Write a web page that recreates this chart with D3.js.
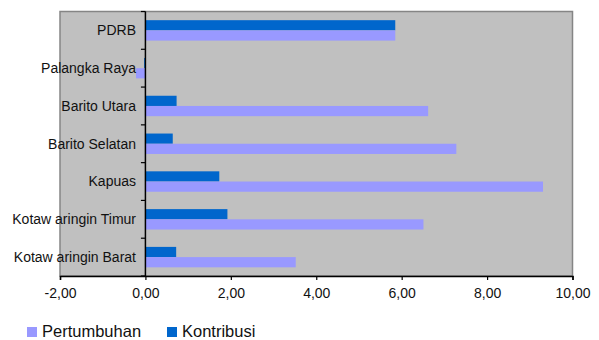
<!DOCTYPE html>
<html>
<head>
<meta charset="utf-8">
<script src="https://cdn.jsdelivr.net/npm/d3@7"></script>
<style>
  html, body { margin: 0; padding: 0; background: #fff; }
  svg { display: block; font-family: "Liberation Sans", Arial, sans-serif; }
</style>
</head>
<body>
<svg id="chart" width="599" height="340"></svg>
<script>
// Regions, listed top to bottom
const categories = [
  "PDRB",
  "Palangka Raya",
  "Barito Utara",
  "Barito Selatan",
  "Kapuas",
  "Kotaw aringin Timur",
  "Kotaw aringin Barat"
];
// Contribution and growth per region (%)
const kontribusi  = [5.85, -0.03, 0.73, 0.64, 1.73, 1.92, 0.72];
const pertumbuhan = [5.85, -0.22, 6.62, 7.28, 9.31, 6.51, 3.52];
const xTicks = [-2, 0, 2, 4, 6, 8, 10];
const seriesNames = ["Pertumbuhan", "Kontribusi"];
const colors = { Pertumbuhan: "#9999FF", Kontribusi: "#0066CC" };

const svg = d3.select("#chart");
const plot = { left: 60, right: 572.5, top: 11.5, bottom: 276 };

const x = d3.scaleLinear().domain([-2, 10]).range([plot.left, plot.right]);
const y = d3.scaleBand().domain(categories).range([plot.top, plot.bottom]).padding(0);
const sub = d3.scaleBand().domain(["Kontribusi", "Pertumbuhan"])
  .range([0, y.bandwidth()]).paddingInner(0).paddingOuter(0.85);

// Plot area
svg.append("rect")
  .attr("x", plot.left).attr("y", plot.top)
  .attr("width", plot.right - plot.left).attr("height", plot.bottom - plot.top)
  .attr("fill", "#C0C0C0").attr("stroke", "#858585").attr("stroke-width", 1.5);

const rows = categories.map((c, i) => ({ c, Kontribusi: kontribusi[i], Pertumbuhan: pertumbuhan[i] }));

const g = svg.append("g");
["Kontribusi", "Pertumbuhan"].forEach(s => {
  g.selectAll(null).data(rows).enter().append("rect")
    .attr("x", d => x(Math.min(0, d[s])))
    .attr("width", d => Math.abs(x(d[s]) - x(0)))
    .attr("y", d => y(d.c) + sub(s))
    .attr("height", sub.bandwidth())
    .attr("fill", colors[s]);
});

// Bottom value axis, comma decimals with a plain hyphen for negatives
const fmt = d => d3.format(".2f")(d).replace(".", ",").replace("\u2212", "-");
const xAxis = svg.append("g").attr("transform", `translate(0,${plot.bottom})`)
  .call(d3.axisBottom(x).tickValues(xTicks).tickSize(4).tickPadding(8).tickFormat(fmt));
xAxis.select(".domain").attr("stroke", "#000").attr("stroke-width", 1.5);
xAxis.selectAll(".tick line").attr("stroke", "#000").attr("stroke-width", 1.2);
xAxis.selectAll(".tick text").attr("font-size", 14).attr("fill", "#111")
  .attr("font-family", "Liberation Sans, Arial, sans-serif");

// Category axis on the zero line
const yAxisG = svg.append("g").attr("transform", `translate(${x(0)},0)`);
yAxisG.append("line").attr("x1", 0).attr("x2", 0)
  .attr("y1", plot.top).attr("y2", plot.bottom)
  .attr("stroke", "#000").attr("stroke-width", 1.5);
const bounds = categories.map(c => y(c)).concat([plot.bottom]);
yAxisG.selectAll(null).data(bounds).enter().append("line")
  .attr("x1", -4.5).attr("x2", 0)
  .attr("y1", d => d).attr("y2", d => d)
  .attr("stroke", "#000").attr("stroke-width", 1.2);

// Category labels
svg.selectAll(null).data(categories).enter().append("text")
  .attr("x", 136)
  .attr("y", d => y(d) + y.bandwidth() / 2)
  .attr("dy", "0.35em")
  .attr("text-anchor", "end")
  .attr("font-size", 14)
  .attr("fill", "#111")
  .text(d => d);

// Legend
const legendX = [27, 167];
const lg = svg.selectAll(null).data(seriesNames).enter().append("g")
  .attr("transform", (d, i) => `translate(${legendX[i]},327)`);
lg.append("rect").attr("width", 10).attr("height", 10).attr("fill", d => colors[d]);
lg.append("text").attr("x", 15).attr("y", 10).attr("font-size", 16.5).attr("fill", "#111").text(d => d);
</script>
</body>
</html>
